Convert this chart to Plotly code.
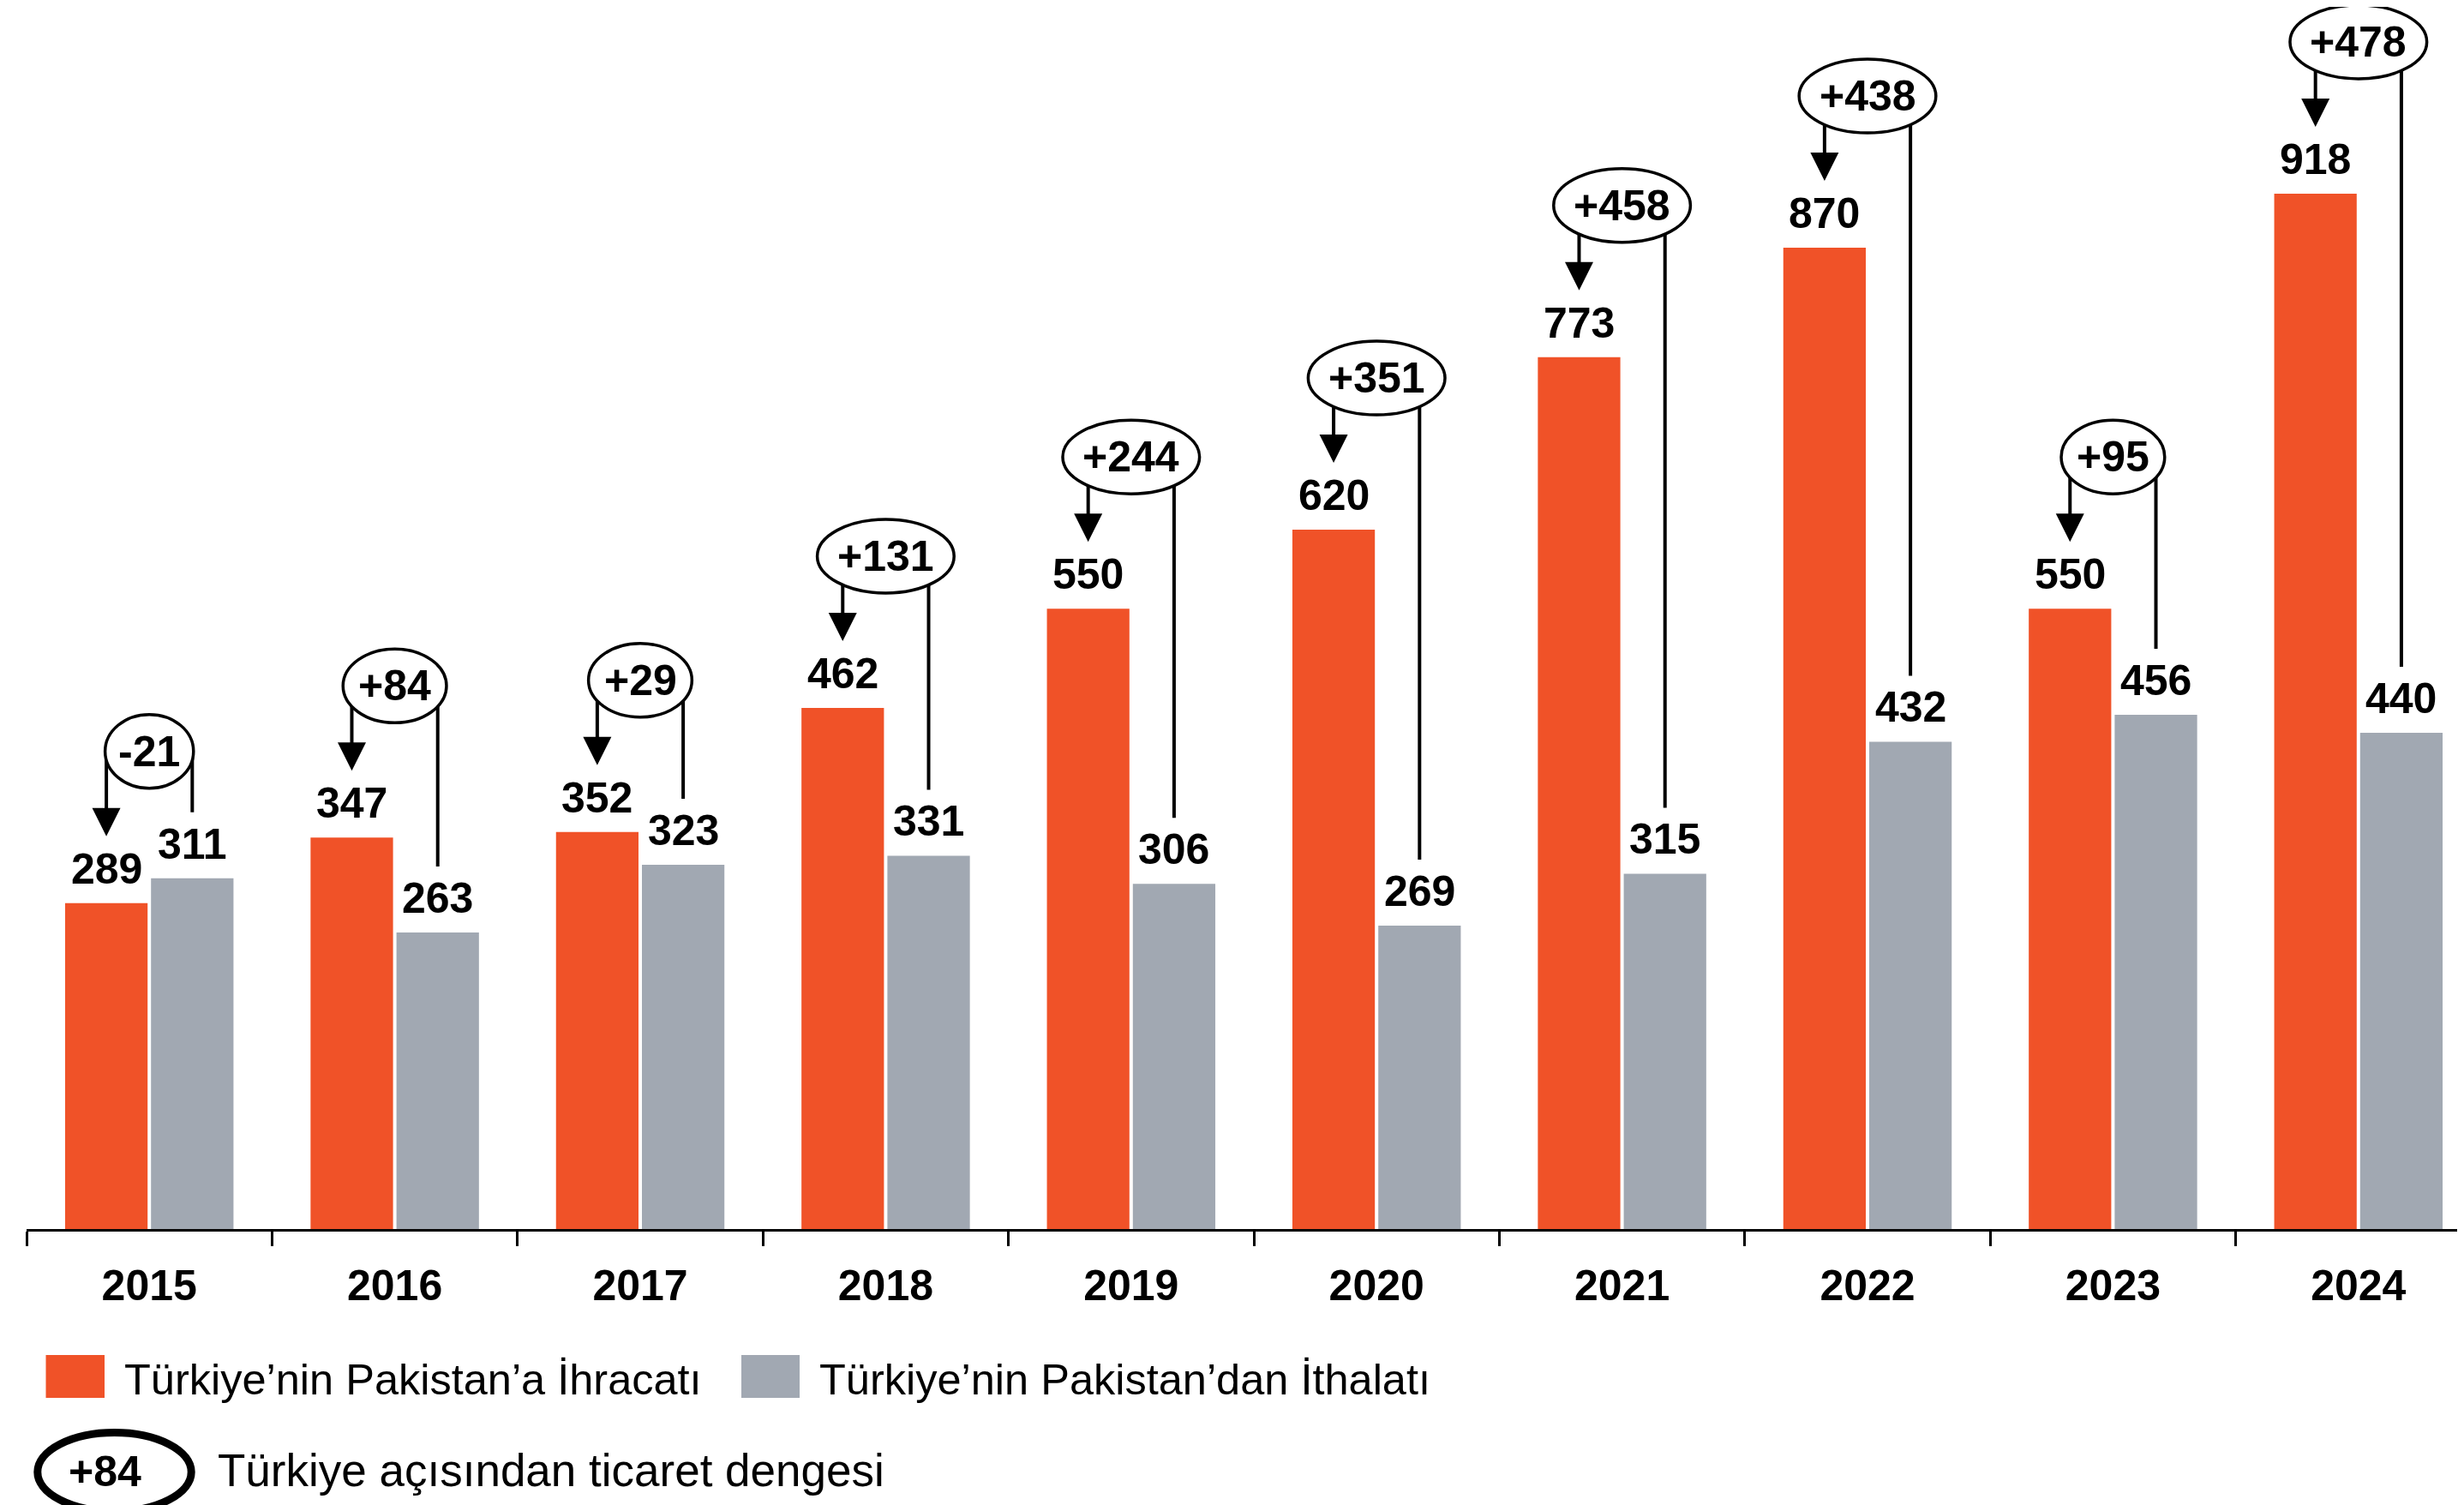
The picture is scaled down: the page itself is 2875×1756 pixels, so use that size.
import plotly.graph_objects as go

# ---------------- data ----------------
years = ["2015", "2016", "2017", "2018", "2019", "2020", "2021", "2022", "2023", "2024"]
exports = [289, 347, 352, 462, 550, 620, 773, 870, 550, 918]   # Türkiye'nin Pakistan'a İhracatı
imports = [311, 263, 323, 331, 306, 269, 315, 432, 456, 440]   # Türkiye'nin Pakistan'dan İthalatı
balance_labels = ["-21", "+84", "+29", "+131", "+244", "+351", "+458", "+438", "+95", "+478"]

legend_labels = ["Türkiye’nin Pakistan’a İhracatı",
                 "Türkiye’nin Pakistan’dan İthalatı",
                 "Türkiye açısından ticaret dengesi"]
legend_sample = "+84"

# ---------------- style ----------------
ORANGE = "#F05228"
GRAY = "#A1A8B2"
BLACK = "#000000"
FONT = "Liberation Sans"

PAGE_W, PAGE_H = 2875, 1756
BODY = 8                         # default page margin around the plot div
W, H = PAGE_W - BODY, PAGE_H - BODY
PLOT_LEFT, PLOT_BOTTOM = 31, 1434   # page pixel positions of plot area
ML = PLOT_LEFT - BODY
PLOT_W = W - ML
PLOT_H = PLOT_BOTTOM - BODY
MB = H - PLOT_H
PX_PER_CAT = 286.4
PX_PER_UNIT = 1.316
BARGAP, GROUPGAP = 0.3, 0.04
OFF = (1 - BARGAP) / 4          # centre offset of each bar inside its group

FS = 50                          # bold number size
ELL_H = 86                       # ellipse height (px)
ELL_UP = 177                     # ellipse centre above export bar top (px)
LABEL_UP = 40                    # value label centre above bar top (px)
TIP_UP = 78                      # arrow tip above export bar top (px)
LINE_END_UP = 77                 # right line end above import bar top (px)
HEAD = 33                        # arrow head size (px)

CHAR_W = {"+": 0.584, "-": 0.333}


def text_w(s, fs=FS):
    return sum(CHAR_W.get(c, 0.556) for c in s) * fs


def pxx(p):
    """page x pixel -> paper x"""
    return (p - PLOT_LEFT) / PLOT_W


def pxy(p):
    """page y pixel -> paper y"""
    return (PLOT_BOTTOM - p) / PLOT_H


x = list(range(len(years)))

fig = go.Figure()
fig.add_bar(x=x, y=exports, marker=dict(color=ORANGE, line=dict(width=0)),
            name=legend_labels[0], showlegend=False)
fig.add_bar(x=x, y=imports, marker=dict(color=GRAY, line=dict(width=0)),
            name=legend_labels[1], showlegend=False)

shapes = []
annotations = []
bold = dict(family=FONT, size=FS, color=BLACK, weight="bold")

for i in x:
    e, m = exports[i], imports[i]
    ell_c = e + ELL_UP / PX_PER_UNIT
    # left arrow shaft
    shapes.append(dict(type="line", xref="x", yref="y",
                       xsizemode="pixel", xanchor=i - OFF, x0=0, x1=0,
                       y0=ell_c, y1=e + (TIP_UP + HEAD - 2) / PX_PER_UNIT,
                       line=dict(color=BLACK, width=4)))
    # arrow head
    shapes.append(dict(type="path", xref="x", yref="y",
                       xsizemode="pixel", xanchor=i - OFF,
                       ysizemode="pixel", yanchor=e,
                       path=f"M{-HEAD/2},{TIP_UP + HEAD} L{HEAD/2},{TIP_UP + HEAD} L0,{TIP_UP} Z",
                       fillcolor=BLACK, line=dict(width=0)))
    # right line down to import bar
    shapes.append(dict(type="line", xref="x", yref="y",
                       xsizemode="pixel", xanchor=i + OFF, x0=0, x1=0,
                       y0=ell_c, y1=m + LINE_END_UP / PX_PER_UNIT,
                       line=dict(color=BLACK, width=4)))

for i in x:
    e = exports[i]
    w = 1.4 * text_w(balance_labels[i]) + 2
    shapes.append(dict(type="circle", xref="x", yref="y",
                       xsizemode="pixel", xanchor=i, x0=-w / 2, x1=w / 2,
                       ysizemode="pixel", yanchor=e, y0=ELL_UP - ELL_H / 2, y1=ELL_UP + ELL_H / 2,
                       fillcolor="white", line=dict(color=BLACK, width=3.5)))
    annotations.append(dict(x=i, y=e, xref="x", yref="y", text=balance_labels[i],
                            showarrow=False, yanchor="middle", yshift=ELL_UP, font=bold))
    annotations.append(dict(x=i - OFF, y=e, xref="x", yref="y", text=str(e),
                            showarrow=False, yanchor="middle", yshift=LABEL_UP, font=bold))
    annotations.append(dict(x=i + OFF, y=imports[i], xref="x", yref="y", text=str(imports[i]),
                            showarrow=False, yanchor="middle", yshift=LABEL_UP, font=bold))

# ---------------- custom legend ----------------
reg = dict(family=FONT, size=50.5, color=BLACK)
shapes.append(dict(type="rect", xref="paper", yref="paper",
                   x0=pxx(53.5), x1=pxx(122), y0=pxy(1631), y1=pxy(1581),
                   fillcolor=ORANGE, line=dict(width=0)))
shapes.append(dict(type="rect", xref="paper", yref="paper",
                   x0=pxx(865), x1=pxx(933), y0=pxy(1631), y1=pxy(1581),
                   fillcolor=GRAY, line=dict(width=0)))
annotations.append(dict(x=pxx(143), y=pxy(1609), xref="paper", yref="paper",
                        text=legend_labels[0], showarrow=False,
                        xanchor="left", yanchor="middle", font=reg))
annotations.append(dict(x=pxx(954), y=pxy(1609), xref="paper", yref="paper",
                        text=legend_labels[1], showarrow=False,
                        xanchor="left", yanchor="middle", font=reg))
shapes.append(dict(type="circle", xref="paper", yref="paper",
                   x0=pxx(43.8), x1=pxx(223.2), y0=pxy(1763.5), y1=pxy(1671.5),
                   fillcolor="white", line=dict(color=BLACK, width=9)))
annotations.append(dict(x=pxx(122), y=pxy(1717), xref="paper", yref="paper",
                        text=legend_sample, showarrow=False,
                        xanchor="center", yanchor="middle", font=bold))
annotations.append(dict(x=pxx(252), y=pxy(1715), xref="paper", yref="paper",
                        text=legend_labels[2], showarrow=False,
                        xanchor="left", yanchor="middle",
                        font=dict(family=FONT, size=53, color=BLACK)))

fig.update_layout(
    width=W, height=H,
    margin=dict(l=ML, r=0, t=0, b=MB, pad=0),
    paper_bgcolor="white", plot_bgcolor="white",
    barmode="group", bargap=BARGAP, bargroupgap=GROUPGAP,
    showlegend=False,
    shapes=shapes, annotations=annotations,
    xaxis=dict(range=[-0.5, -0.5 + PLOT_W / PX_PER_CAT],
               tickmode="array", tickvals=x, ticktext=years, ticks="",
               tickfont=dict(family=FONT, size=FS, color=BLACK, weight="bold"),
               ticklabelstandoff=20,
               showline=True, linecolor=BLACK, linewidth=3,
               showgrid=False, zeroline=False,
               minor=dict(tickmode="array", tickvals=[i - 0.5 for i in range(len(years) + 1)],
                          ticks="outside", ticklen=17, tickwidth=3, tickcolor=BLACK,
                          showgrid=False)),
    yaxis=dict(range=[0, PLOT_H / PX_PER_UNIT], visible=False, showgrid=False, zeroline=False),
)

fig.write_html("out.html")
